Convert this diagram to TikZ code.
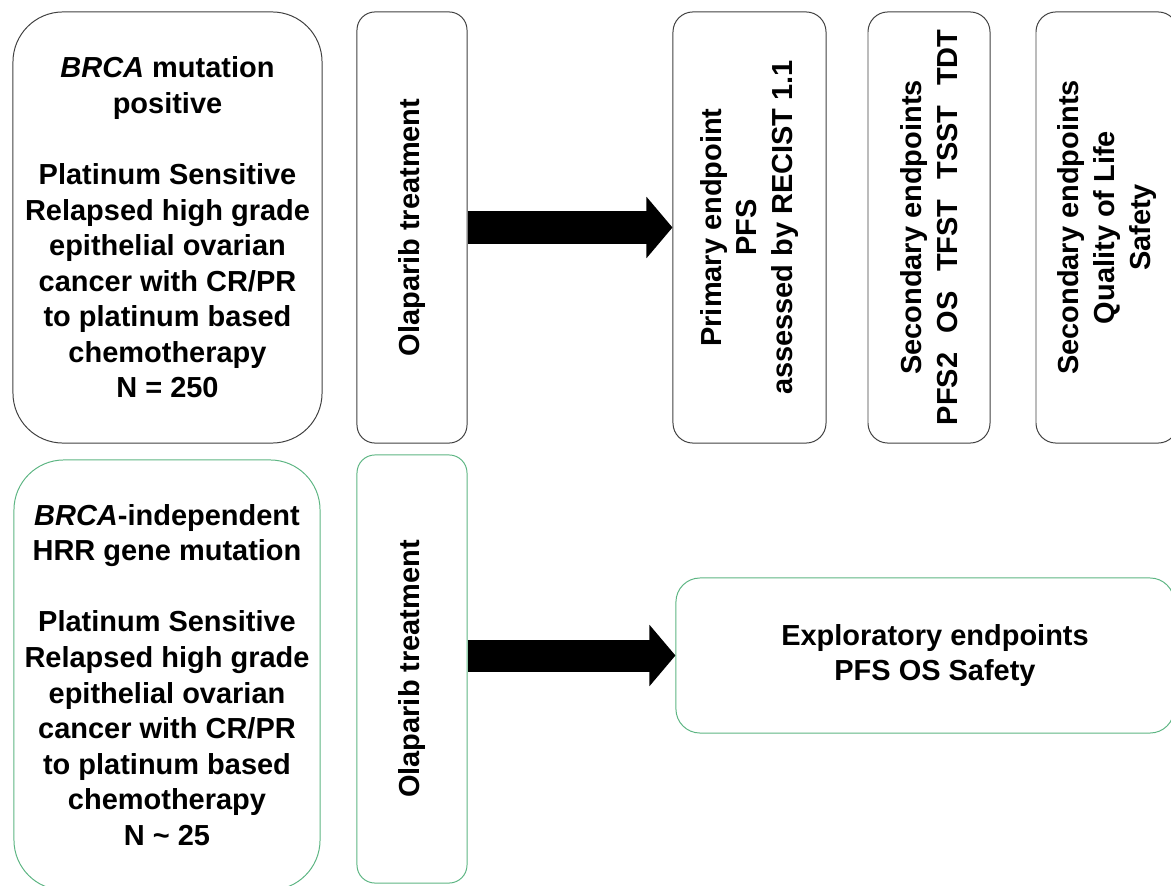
\documentclass[tikz,border=0pt]{standalone}
\usepackage{fontspec}
\setmainfont{Liberation Sans}
\usepackage{xcolor}
\definecolor{frameGray}{gray}{0.25}
\definecolor{hrrGreen}{HTML}{5DB583}
\usepackage{tikz}
\usetikzlibrary{arrows.meta}

\tikzset{
  boxtext/.style={font=\bfseries\fontsize{20.6}{25.3}\selectfont, align=center, inner sep=0pt},
  armbox/.style={draw=frameGray, line width=0.7pt, rounded corners=#1, inner sep=0pt},
  hrrbox/.style={draw=hrrGreen, line width=0.7pt, rounded corners=#1, inner sep=0pt},
  fatarrow/.style={line width=0.8cm, -{Triangle[length=0.65cm, width=1.5cm]}}
}

\begin{document}
\begin{tikzpicture}[x=0.025cm, y=-0.025cm]
  \useasboundingbox (0,0) rectangle (1171,886);
  \clip (0,0) rectangle (1171,886);
  % top row: BRCA positive cohort
  \node[armbox=1.25cm, minimum width=7.725cm, minimum height=10.775cm] (pos) at (167.5,227.5) {};
  \node[boxtext] (postxt) at (pos) {\textit{BRCA} mutation\\positive\\[25.3pt]Platinum Sensitive\\Relapsed high grade\\epithelial ovarian\\cancer with CR/PR\\to platinum based\\chemotherapy\\N = 250};
  \node[armbox=0.45cm, minimum width=2.75cm, minimum height=10.775cm] (olapA) at (412,227.5) {};
  \node[boxtext, rotate=90] (olapAtxt) at (olapA) {Olaparib treatment};
  \node[armbox=0.5cm, minimum width=3.825cm, minimum height=10.775cm] (prim) at (749.5,227.5) {};
  \node[boxtext, rotate=90] (primtxt) at (prim) {Primary endpoint\\PFS\\assessed by RECIST 1.1};
  \node[armbox=0.5cm, minimum width=3.05cm, minimum height=10.775cm] (secA) at (929,227.5) {};
  \node[boxtext, rotate=90] (secAtxt) at (secA) {Secondary endpoints\\PFS2\hspace{0.4em} OS\hspace{0.4em} TFST\hspace{0.4em} TSST\hspace{0.4em} TDT};
  \node[armbox=0.5cm, minimum width=3.55cm, minimum height=10.775cm] (secB) at (1107,227.5) {};
  \node[boxtext, rotate=90] (secBtxt) at (secB) {Secondary endpoints\\Quality of Life\\Safety};
  % bottom row: HRR cohort
  \node[hrrbox=1.25cm, minimum width=7.65cm, minimum height=10.75cm] (hrr) at (167,675) {};
  \node[boxtext] (hrrtxt) at (hrr) {\textit{BRCA}-independent\\HRR gene mutation\\[25.3pt]Platinum Sensitive\\Relapsed high grade\\epithelial ovarian\\cancer with CR/PR\\to platinum based\\chemotherapy\\N \textasciitilde{} 25};
  \node[hrrbox=0.45cm, minimum width=2.75cm, minimum height=10.7cm] (olapB) at (412,669) {};
  \node[boxtext, rotate=90] (olapBtxt) at (olapB) {Olaparib treatment};
  \node[hrrbox=0.6cm, minimum width=12.45cm, minimum height=3.875cm] (expl) at (925,655.5) {};
  \node[boxtext] (expltxt) at (935,655.5) {Exploratory endpoints\\PFS OS Safety};
  % block arrows
  \draw[fatarrow] (olapA.east) -- (prim.west);
  \draw[fatarrow] (olapB.east |- expl.west) -- (expl.west);
\end{tikzpicture}
\end{document}
